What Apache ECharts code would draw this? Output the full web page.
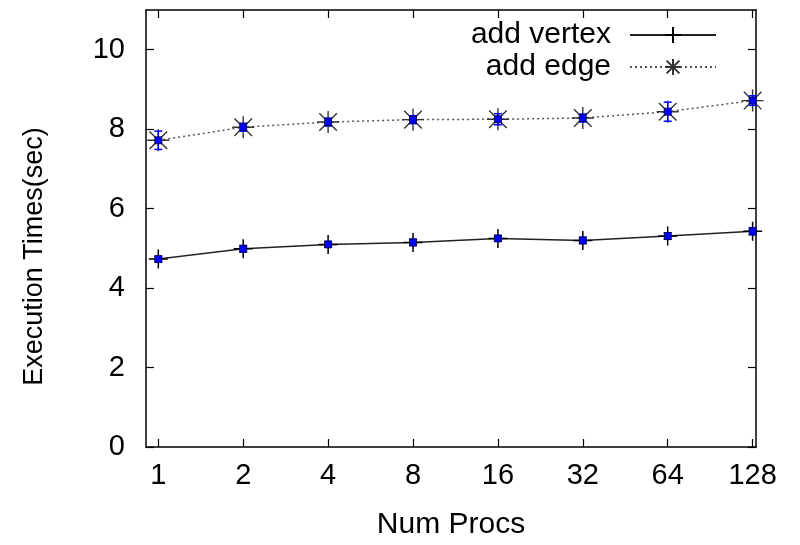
<!DOCTYPE html>
<html>
<head>
<meta charset="utf-8">
<script src="https://cdn.jsdelivr.net/npm/echarts@6/dist/echarts.min.js"></script>
<style>html,body{margin:0;padding:0;background:#fff;}#c{width:800px;height:545px;}</style>
</head>
<body>
<div id="c"></div>
<script>
const categories = ['1', '2', '4', '8', '16', '32', '64', '128'];
const vertexTimes = [4.73, 4.99, 5.10, 5.15, 5.25, 5.20, 5.31, 5.43];
const edgeTimes = [7.72, 8.05, 8.18, 8.24, 8.25, 8.28, 8.44, 8.72];
const vertexErr = [0.07, 0.08, 0.07, 0.08, 0.07, 0.08, 0.08, 0.09];
const edgeErr = [0.23, 0.10, 0.10, 0.10, 0.14, 0.10, 0.24, 0.12];
const yTicks = [0, 2, 4, 6, 8, 10];
const xTicks = categories.map((c, i) => i);

const FONT = 'Liberation Sans, Arial, Helvetica, sans-serif';
const chart = echarts.init(document.getElementById('c'), null, {renderer: 'canvas'});

const plusPath = 'path://M0,-10L0,10M-10,0L10,0';
const starPath = 'path://M0,-10L0,10M-10,0L10,0M-8,-8L8,8M-8,8L8,-8';

function errData(vals, errs) {
  return vals.map((v, i) => [i, v - errs[i], v + errs[i], v]);
}

function renderErr(params, api) {
  const x = api.value(0);
  const lo = api.coord([x, api.value(1)]);
  const hi = api.coord([x, api.value(2)]);
  const mid = api.coord([x, api.value(3)]);
  const cap = 4;
  const s = 3.5;
  const style = {stroke: '#0000ff', lineWidth: 1.5};
  return {
    type: 'group',
    children: [
      {type: 'line', shape: {x1: lo[0], y1: lo[1], x2: hi[0], y2: hi[1]}, style: style},
      {type: 'line', shape: {x1: lo[0] - cap, y1: lo[1], x2: lo[0] + cap, y2: lo[1]}, style: style},
      {type: 'line', shape: {x1: hi[0] - cap, y1: hi[1], x2: hi[0] + cap, y2: hi[1]}, style: style},
      {type: 'rect', shape: {x: mid[0] - s, y: mid[1] - s, width: 2 * s, height: 2 * s}, style: {fill: '#0000ff', stroke: '#000033', lineWidth: 0.8}}
    ]
  };
}

const axisLineStyle = {color: '#000', width: 1.5};
const tickStyle = {color: '#000', width: 1.2};

const option = {
  animation: false,
  backgroundColor: '#fff',
  grid: {left: 146, right: 44, top: 10, bottom: 95, containLabel: false},
  legend: {
    right: 83,
    top: 20,
    padding: 0,
    orient: 'vertical',
    align: 'right',
    itemWidth: 86,
    itemHeight: 20,
    itemGap: 2,
    textStyle: {fontSize: 30, color: '#000', fontFamily: FONT, padding: [0, 14, 0, 0]},
    data: ['add vertex', 'add edge']
  },
  xAxis: [{
    type: 'value',
    min: -0.145,
    max: 7.04,
    position: 'bottom',
    axisLine: {show: true, onZero: false, lineStyle: axisLineStyle},
    axisTick: {show: true, inside: true, length: 8, customValues: xTicks, lineStyle: tickStyle},
    axisLabel: {show: true, customValues: xTicks, margin: 14, fontSize: 29, color: '#000', fontFamily: FONT,
      formatter: v => categories[Math.round(v)]},
    splitLine: {show: false},
    name: 'Num Procs',
    nameLocation: 'middle',
    nameGap: 63,
    nameTextStyle: {fontSize: 30, color: '#000', fontFamily: FONT}
  }, {
    type: 'value',
    min: -0.145,
    max: 7.04,
    position: 'top',
    axisLine: {show: true, onZero: false, lineStyle: axisLineStyle},
    axisTick: {show: true, inside: true, length: 8, customValues: xTicks, lineStyle: tickStyle},
    axisLabel: {show: false},
    splitLine: {show: false}
  }],
  yAxis: [{
    type: 'value',
    min: 0,
    max: 11,
    position: 'left',
    axisLine: {show: true, onZero: false, lineStyle: axisLineStyle},
    axisTick: {show: true, inside: true, length: 8, customValues: yTicks, lineStyle: tickStyle},
    axisLabel: {show: true, customValues: yTicks, margin: 21, fontSize: 29, color: '#000', fontFamily: FONT},
    splitLine: {show: false},
    name: 'Execution Times(sec)',
    nameLocation: 'middle',
    nameGap: 98,
    nameTextStyle: {fontSize: 27, color: '#000', fontFamily: FONT, padding: [0, 56, 0, 0]}
  }, {
    type: 'value',
    min: 0,
    max: 11,
    position: 'right',
    axisLine: {show: true, onZero: false, lineStyle: axisLineStyle},
    axisTick: {show: true, inside: true, length: 8, customValues: yTicks, lineStyle: tickStyle},
    axisLabel: {show: false},
    splitLine: {show: false}
  }],
  series: [{
    name: 'add vertex',
    type: 'line',
    xAxisIndex: 0,
    yAxisIndex: 0,
    data: vertexTimes.map((v, i) => [i, v]),
    symbol: plusPath,
    symbolSize: 19,
    showSymbol: true,
    lineStyle: {color: '#222', width: 1.5, type: 'solid'},
    itemStyle: {color: '#000', borderColor: '#000', borderWidth: 1.5},
    z: 2
  }, {
    name: 'add edge',
    type: 'line',
    xAxisIndex: 0,
    yAxisIndex: 0,
    data: edgeTimes.map((v, i) => [i, v]),
    symbol: starPath,
    symbolSize: 22,
    showSymbol: true,
    lineStyle: {color: '#555', width: 1.5, type: [2, 3]},
    itemStyle: {color: '#000', borderColor: '#333', borderWidth: 1.4},
    z: 2
  }, {
    type: 'custom',
    xAxisIndex: 0,
    yAxisIndex: 0,
    renderItem: renderErr,
    data: errData(vertexTimes, vertexErr),
    z: 3
  }, {
    type: 'custom',
    xAxisIndex: 0,
    yAxisIndex: 0,
    renderItem: renderErr,
    data: errData(edgeTimes, edgeErr),
    z: 3
  }]
};
chart.setOption(option);
</script>
</body>
</html>
